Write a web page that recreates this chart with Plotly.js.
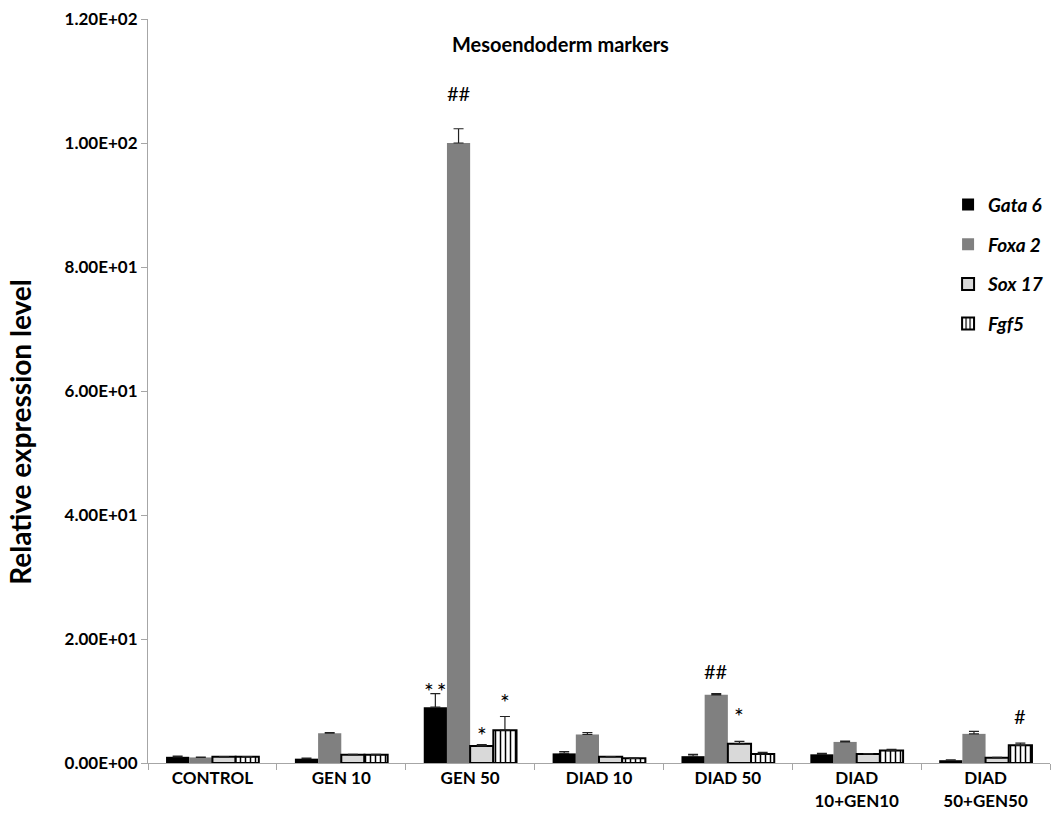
<!DOCTYPE html>
<html>
<head>
<meta charset="utf-8">
<script src="https://cdn.plot.ly/plotly-3.0.1.min.js"></script>
<style>html,body{margin:0;padding:0;background:#fff;}#chart{width:1058px;height:823px;}</style>
</head>
<body>
<div id="chart"></div>
<script>
// Categories (x-axis groups)
const categories = ["CONTROL", "GEN 10", "GEN 50", "DIAD 10", "DIAD 50", "DIAD<br>10+GEN10", "DIAD<br>50+GEN50"];
// Series names
const seriesNames = ["Gata 6", "Foxa 2", "Sox 17", "Fgf5"];
// Series values (relative expression level)
const gata6 = [1.0, 0.7, 9.0, 1.55, 1.1, 1.4, 0.45];
const foxa2 = [0.9, 4.8, 100.0, 4.6, 11.0, 3.4, 4.7];
const sox17 = [1.0, 1.35, 2.75, 1.0, 3.1, 1.45, 0.85];
const fgf5  = [1.0, 1.35, 5.3, 0.75, 1.45, 2.0, 2.85];
// Upper error values
const gata6Err = [0.1, 0.1, 2.2, 0.3, 0.3, 0.15, 0.05];
const foxa2Err = [0.05, 0.1, 2.3, 0.3, 0.2, 0.15, 0.4];
const sox17Err = [0.05, 0.05, 0.2, 0.05, 0.4, 0.05, 0.05];
const fgf5Err  = [0.05, 0.05, 2.2, 0.05, 0.25, 0.2, 0.35];
// Y tick values and labels
const yTickVals = [0, 20, 40, 60, 80, 100, 120];
const yTickText = ["0.00E+00", "2.00E+01", "4.00E+01", "6.00E+01", "8.00E+01", "1.00E+02", "1.20E+02"];
// Significance marks: group index, series index, label, y-position
const sigGroup  = [2, 2, 2, 2, 4, 4, 6];
const sigSeries = [0, 1, 2, 3, 1, 2, 3];
const sigLabel  = ["**", "##", "*", "*", "##", "*", "#"];
const sigY      = [12.4, 108.0, 5.3, 10.6, 14.8, 8.4, 7.6];

const FONT = "Lato, 'Open Sans', Arial, sans-serif";
const values = [gata6, foxa2, sox17, fgf5];
const errs = [gata6Err, foxa2Err, sox17Err, fgf5Err];
const styles = [
  {color: "#000000", line: {color: "#000000", width: 0}},
  {color: "#808080", line: {color: "#808080", width: 0}},
  {color: "#d9d9d9", line: {color: "#000000", width: 2}},
  {color: "#ffffff", line: {color: "#000000", width: 2},
   pattern: {shape: "|", fgcolor: "#000000", bgcolor: "#ffffff", size: 5, solidity: 0.3}}
];

const traces = seriesNames.map((name, i) => ({
  type: "bar",
  name: name,
  legendgroup: "g" + i,
  x: categories,
  y: values[i],
  marker: styles[i],
  error_y: {type: "data", symmetric: false, array: errs[i],
            arrayminus: values[i].map(() => 0),
            color: "#222", thickness: 1.2, width: 5}
}));

const groupWidth = 0.72;
const barW = groupWidth / 4;
const annotations = sigGroup.map((g, k) => {
  const isStar = sigLabel[k].indexOf("*") >= 0;
  return {
    x: g - groupWidth / 2 + barW * (sigSeries[k] + 0.5),
    y: sigY[k], xref: "x", yref: "y",
    text: isStar ? sigLabel[k].split("").join("\u2009") : sigLabel[k],
    showarrow: false, yanchor: "middle",
    yshift: isStar ? -5 : 0,
    font: {family: FONT, size: isStar ? 23 : 20, color: "#000000"}
  };
});
annotations.push({
  text: "Mesoendoderm markers", xref: "paper", yref: "paper",
  x: 0.457, y: 0.966, showarrow: false, xanchor: "center", yanchor: "middle",
  font: {family: FONT, size: 20, color: "#000", weight: "bold"}
});
annotations.push({
  text: "Relative expression level", xref: "paper", yref: "paper",
  x: -0.142, y: 0.445, showarrow: false, textangle: -90, xanchor: "center", yanchor: "middle",
  font: {family: FONT, size: 28, color: "#000", weight: "bold"}
});

const layout = {
  width: 1058, height: 823,
  margin: {l: 148, r: 8, t: 19, b: 60},
  paper_bgcolor: "#fff", plot_bgcolor: "#fff",
  barmode: "group", bargap: 1 - groupWidth, bargroupgap: 0,
  font: {family: FONT, color: "#000"},
  showlegend: true,
  legend: {x: 0.887, y: 0.776, xanchor: "left", yanchor: "top",
           font: {family: FONT, size: 19, color: "#000", style: "italic", weight: "bold"},
           tracegroupgap: 12, bgcolor: "rgba(0,0,0,0)"},
  xaxis: {type: "category", showline: true, linecolor: "#a6a6a6", linewidth: 1,
          ticks: "outside", tickson: "boundaries", ticklen: 6, tickcolor: "#a6a6a6",
          tickfont: {family: FONT, size: 17, color: "#000", weight: "bold"},
          showgrid: false, zeroline: false},
  yaxis: {range: [0, 120], tickvals: yTickVals, ticktext: yTickText,
          showline: true, linecolor: "#a6a6a6", linewidth: 1,
          ticks: "outside", ticklen: 6, tickcolor: "#a6a6a6",
          tickfont: {family: FONT, size: 17, color: "#000", weight: "bold"},
          showgrid: false, zeroline: false},
  annotations: annotations
};

Plotly.newPlot("chart", traces, layout, {displayModeBar: false, staticPlot: true});
</script>
</body>
</html>
